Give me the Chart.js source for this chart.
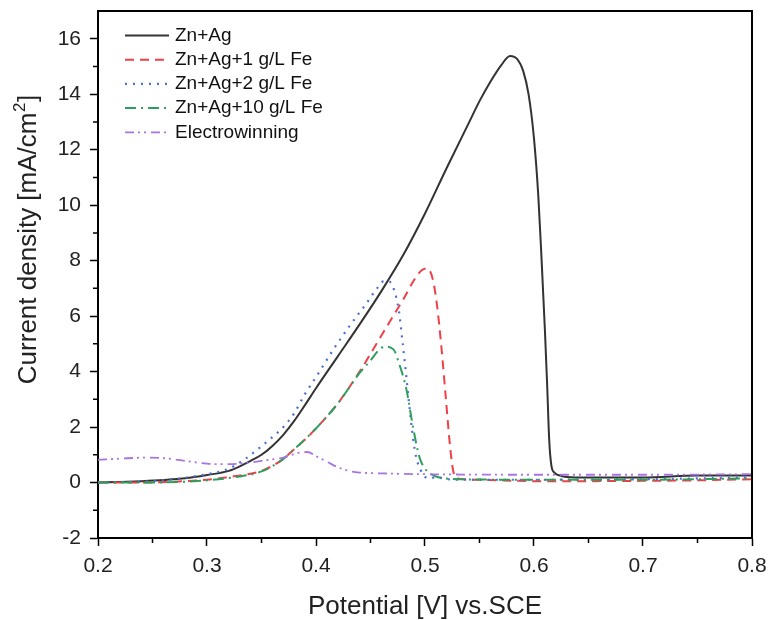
<!DOCTYPE html>
<html>
<head>
<meta charset="utf-8">
<script src="https://cdn.jsdelivr.net/npm/chart.js@4.4.0/dist/chart.umd.min.js"></script>
<style>
html,body{margin:0;padding:0;background:#fff;}
#wrap{width:769px;height:620px;position:relative;}
</style>
</head>
<body>
<div id="wrap"><canvas id="c"></canvas></div>
<script>
// ---- data ----
const seriesNames = ["Zn+Ag", "Zn+Ag+1 g/L Fe", "Zn+Ag+2 g/L Fe", "Zn+Ag+10 g/L Fe", "Electrowinning"];

const znAgV = [0.20,0.22,0.24,0.26,0.28,0.30,0.32,0.33,0.34,0.35,0.36,0.37,0.38,0.39,0.40,0.42,0.44,0.46,0.48,0.50,0.52,0.54,0.55,0.56,0.57,0.578,0.585,0.59,0.595,0.60,0.604,0.607,0.61,0.612,0.614,0.616,0.619,0.624,0.63,0.65,0.70,0.75,0.80];
const znAgJ = [0.00,0.02,0.05,0.09,0.15,0.27,0.42,0.58,0.78,1.00,1.32,1.72,2.22,2.80,3.40,4.55,5.70,6.90,8.20,9.70,11.35,12.95,13.75,14.45,15.05,15.38,15.25,14.85,14.00,12.40,10.30,8.00,5.50,3.60,1.50,0.60,0.35,0.25,0.20,0.18,0.18,0.25,0.25];

const fe1V = [0.20,0.24,0.27,0.30,0.32,0.34,0.35,0.36,0.37,0.38,0.39,0.40,0.42,0.44,0.46,0.47,0.48,0.49,0.497,0.502,0.507,0.511,0.515,0.519,0.523,0.526,0.53,0.55,0.60,0.65,0.70,0.75,0.80];
const fe1J = [0.00,0.00,0.03,0.10,0.20,0.32,0.42,0.60,0.85,1.20,1.55,1.95,2.85,4.00,5.30,5.95,6.60,7.30,7.65,7.72,7.35,6.40,4.90,3.10,1.30,0.40,0.15,0.10,0.05,0.05,0.06,0.08,0.12];

const fe2V = [0.20,0.25,0.30,0.32,0.335,0.345,0.358,0.37,0.38,0.39,0.40,0.416,0.43,0.447,0.456,0.462,0.467,0.472,0.476,0.479,0.482,0.485,0.489,0.492,0.496,0.50,0.505,0.51,0.52,0.55,0.60,0.70,0.80];
const fe2J = [0.00,0.05,0.30,0.50,0.85,1.15,1.57,2.00,2.50,3.20,3.80,4.80,5.60,6.50,7.00,7.25,7.25,6.90,6.20,5.20,4.15,3.00,1.60,0.90,0.45,0.20,0.15,0.20,0.12,0.10,0.10,0.12,0.18];

const fe10V = [0.20,0.25,0.30,0.33,0.35,0.37,0.38,0.40,0.42,0.44,0.45,0.457,0.463,0.471,0.477,0.483,0.489,0.495,0.50,0.505,0.51,0.53,0.60,0.70,0.80];
const fe10J = [0.00,0.00,0.08,0.22,0.40,0.85,1.20,1.95,2.85,3.95,4.40,4.75,4.90,4.80,4.20,3.35,2.00,0.90,0.50,0.32,0.22,0.12,0.10,0.10,0.15];

const ewV = [0.20,0.22,0.245,0.26,0.28,0.30,0.315,0.33,0.35,0.37,0.385,0.392,0.40,0.41,0.42,0.43,0.44,0.46,0.50,0.60,0.70,0.80];
const ewJ = [0.82,0.86,0.90,0.88,0.78,0.68,0.66,0.68,0.78,0.90,1.08,1.10,0.95,0.75,0.55,0.42,0.36,0.33,0.30,0.28,0.28,0.30];

const xTicks = [0.2,0.3,0.4,0.5,0.6,0.7,0.8];
const xMinorTicks = [0.25,0.35,0.45,0.55,0.65,0.75];
const yTicks = [-2,0,2,4,6,8,10,12,14,16];
const yMinorTicks = [-1,1,3,5,7,9,11,13,15];

const xTitle = "Potential [V] vs.SCE";
const yTitleMain = "Current density [mA/cm";
const yTitleSup = "2";
const yTitleEnd = "]";

// ---- styles ----
const FONT = "'Liberation Sans', Arial, Helvetica, sans-serif";
const styles = [
  {color:'#333333', dash:[], width:2},
  {color:'#ef4048', dash:[9,6], width:2},
  {color:'#4a70d0', dash:[2,6], width:2.2},
  {color:'#2e9e5e', dash:[11,5,2,5], width:2},
  {color:'#a874e4', dash:[9,4,2,4,2,5], width:1.8}
];
const pairs = (v,j)=>v.map((x,i)=>({x:x,y:j[i]}));
const allData = [pairs(znAgV,znAgJ), pairs(fe1V,fe1J), pairs(fe2V,fe2J), pairs(fe10V,fe10J), pairs(ewV,ewJ)];

const datasets = allData.map((d,i)=>({
  label: seriesNames[i],
  data: d,
  borderColor: styles[i].color,
  backgroundColor: styles[i].color,
  borderDash: styles[i].dash,
  borderWidth: styles[i].width,
  pointRadius: 0,
  fill: false,
  cubicInterpolationMode: 'monotone'
})).reverse();

function zeroPad(s){ s.paddingTop = 0; s.paddingBottom = 0; s.paddingLeft = 0; s.paddingRight = 0; }

const extras = {
  id:'extras',
  afterDraw(chart){
    const ctx = chart.ctx, ca = chart.chartArea;
    const xs = chart.scales.x, ys = chart.scales.y;
    ctx.save();
    ctx.strokeStyle = '#000';
    ctx.lineWidth = 2;
    ctx.beginPath();
    ctx.moveTo(ca.left, ca.top); ctx.lineTo(ca.right, ca.top); ctx.lineTo(ca.right, ca.bottom);
    ctx.stroke();
    ctx.lineWidth = 1.5;
    ctx.beginPath();
    xMinorTicks.forEach(v=>{const p = xs.getPixelForValue(v); ctx.moveTo(p, ca.bottom); ctx.lineTo(p, ca.bottom+5);});
    yMinorTicks.forEach(v=>{const p = ys.getPixelForValue(v); ctx.moveTo(ca.left, p); ctx.lineTo(ca.left-5, p);});
    ctx.stroke();
    // legend
    ctx.font = "19px " + FONT;
    ctx.textBaseline = 'middle';
    ctx.textAlign = 'left';
    ctx.fillStyle = '#111';
    seriesNames.forEach((name,i)=>{
      const y = ca.top + 24.5 + i*24.2;
      const x0 = ca.left + 27, x1 = ca.left + 71;
      ctx.save();
      ctx.strokeStyle = styles[i].color;
      ctx.lineWidth = styles[i].width;
      ctx.setLineDash(styles[i].dash);
      ctx.beginPath(); ctx.moveTo(x0,y); ctx.lineTo(x1,y); ctx.stroke();
      ctx.restore();
      ctx.fillText(name, ca.left + 77, y);
    });
    // y-axis title with superscript
    ctx.save();
    ctx.translate(29, 240);
    ctx.rotate(-Math.PI/2);
    ctx.fillStyle = '#222';
    ctx.textBaseline = 'middle';
    const fMain = "26px " + FONT, fSup = "17px " + FONT;
    ctx.font = fMain; const w1 = ctx.measureText(yTitleMain).width; const w3 = ctx.measureText(yTitleEnd).width;
    ctx.font = fSup; const w2 = ctx.measureText(yTitleSup).width;
    let x = -(w1+w2+w3)/2;
    ctx.font = fMain; ctx.fillText(yTitleMain, x, 0); x += w1;
    ctx.font = fSup; ctx.fillText(yTitleSup, x+0.5, -9); x += w2 + 1;
    ctx.font = fMain; ctx.fillText(yTitleEnd, x, 0);
    ctx.restore();
    ctx.restore();
  }
};

new Chart(document.getElementById('c'), {
  type:'line',
  data:{datasets},
  options:{
    responsive:true,
    maintainAspectRatio:false,
    animation:false,
    layout:{padding:{left:0, top:11, right:17, bottom:0}},
    plugins:{legend:{display:false}, tooltip:{enabled:false}},
    scales:{
      x:{
        type:'linear', min:0.2, max:0.8,
        afterFit(s){ s.height = 82; zeroPad(s); },
        afterBuildTicks(s){ s.ticks = xTicks.map(v=>({value:v})); },
        border:{display:true, color:'#000', width:2},
        grid:{drawOnChartArea:false, drawTicks:true, tickLength:8, tickWidth:1.5, tickColor:'#000'},
        ticks:{color:'#222', font:{family:FONT, size:21}, padding:8, maxRotation:0, callback:(v)=>Number(v).toFixed(1)},
        title:{display:true, text:xTitle, color:'#222', font:{family:FONT, size:26, lineHeight:1.0}, padding:{top:0,bottom:0}}
      },
      y:{
        type:'linear', min:-2, max:17,
        afterFit(s){ s.width = 98; zeroPad(s); },
        afterBuildTicks(s){ s.ticks = yTicks.map(v=>({value:v})); },
        border:{display:true, color:'#000', width:2},
        grid:{drawOnChartArea:false, drawTicks:true, tickLength:8, tickWidth:1.5, tickColor:'#000'},
        ticks:{color:'#222', font:{family:FONT, size:21}, padding:9, callback:(v)=>String(v)},
        title:{display:false}
      }
    }
  },
  plugins:[extras]
});
</script>
</body>
</html>
